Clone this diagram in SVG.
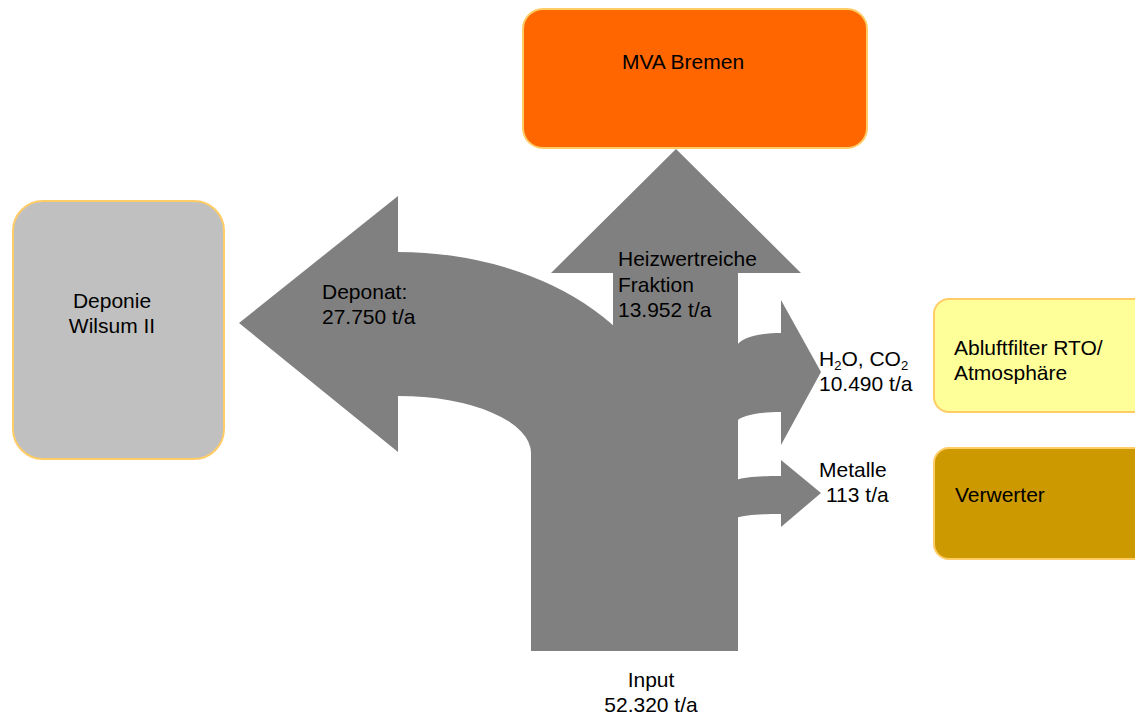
<svg xmlns="http://www.w3.org/2000/svg" width="1135" height="720" viewBox="0 0 1135 720">
<style>
text{font-family:"Liberation Sans",Arial,sans-serif;font-size:21px;fill:#000}
.box{stroke:#FFCC66;stroke-width:2}
.flow{fill:#808080;stroke:none}
.mid{text-anchor:middle}
</style>
<rect width="1135" height="720" fill="#fff"/>
<g id="connectors">
<path class="flow" d="M239,323 L398,196 L398,252 A277 198 0 0 1 675,450 L675,651 L531,651 L531,453 A133 57 0 0 0 398,396 L398,452 Z"/>
<path class="flow" d="M613,651 L613,273 L551,273 L676,149 L801,273 L738,273 L738,651 Z"/>
<path class="flow" d="M736,347 C740,337 760,333 781,333 L781,300 L821,372 L781,445 L781,412 C760,412 741,415 736,422 Z"/>
<path class="flow" d="M736,480 C745,477 760,476 781,476 L781,460 L821,493 L781,527 L781,514 C760,514 745,515 736,518 Z"/>
<text x="322" y="299">Deponat:</text>
<text x="322" y="324">27.750 t/a</text>
<text x="618" y="266">Heizwertreiche</text>
<text x="618" y="292">Fraktion</text>
<text x="618" y="317">13.952 t/a</text>
<text x="819" y="366">H<tspan font-size="13" dy="4">2</tspan><tspan dy="-4">O, CO</tspan><tspan font-size="13" dy="4">2</tspan></text>
<text x="819" y="391">10.490 t/a</text>
<text x="819" y="477">Metalle</text>
<text x="826" y="502">113 t/a</text>
<text class="mid" x="651" y="687">Input</text>
<text class="mid" x="651" y="712">52.320 t/a</text>
</g>
<g id="mva">
<rect class="box" x="523" y="9" width="344" height="139" rx="20" fill="#FF6600"/>
<text class="mid" x="683" y="69">MVA Bremen</text>
</g>
<g id="deponie">
<rect class="box" x="13" y="201" width="211" height="258" rx="30" fill="#C0C0C0"/>
<text class="mid" x="112" y="308">Deponie</text>
<text class="mid" x="112" y="333">Wilsum II</text>
</g>
<g id="abluft">
<rect class="box" x="934" y="299" width="220" height="113" rx="15" fill="#FFFF99"/>
<text x="954" y="355">Abluftfilter RTO/</text>
<text x="954" y="380">Atmosphäre</text>
</g>
<g id="verwerter">
<rect class="box" x="934" y="448" width="220" height="111" rx="15" fill="#CC9900"/>
<text x="955" y="502">Verwerter</text>
</g>
</svg>
